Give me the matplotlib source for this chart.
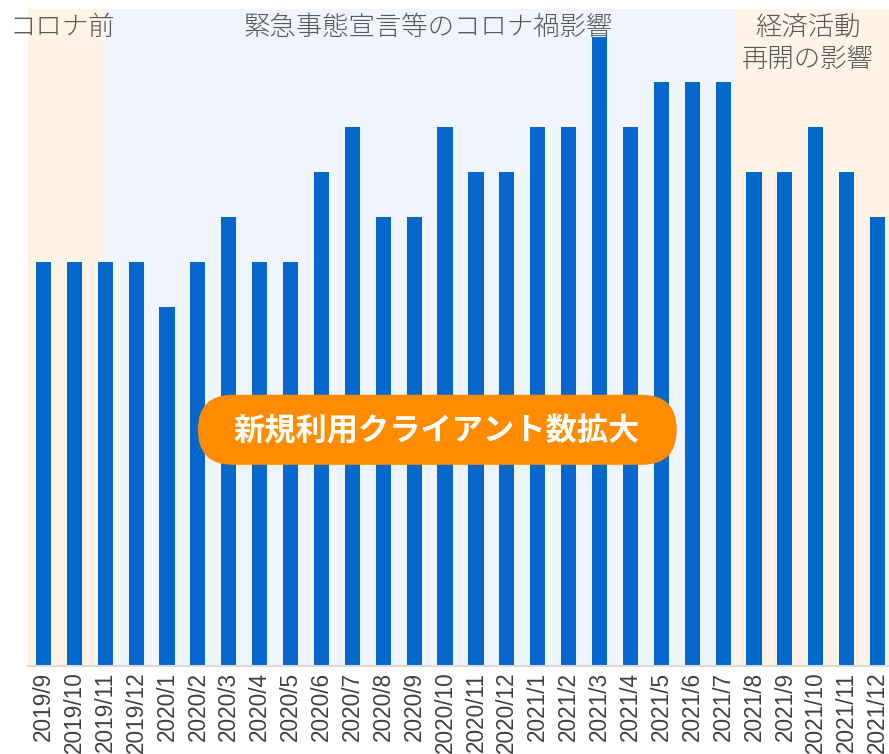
import matplotlib.pyplot as plt
from matplotlib.patches import FancyBboxPatch

months = ['2019/9', '2019/10', '2019/11', '2019/12',
          '2020/1', '2020/2', '2020/3', '2020/4', '2020/5', '2020/6',
          '2020/7', '2020/8', '2020/9', '2020/10', '2020/11', '2020/12',
          '2021/1', '2021/2', '2021/3', '2021/4', '2021/5', '2021/6',
          '2021/7', '2021/8', '2021/9', '2021/10', '2021/11', '2021/12']
clients = [9, 9, 9, 9,
           8, 9, 10, 9, 9, 11,
           12, 10, 10, 12, 11, 11,
           12, 12, 14, 12, 13, 13,
           13, 11, 11, 12, 11, 10]

phase_labels = ['コロナ前', '緊急事態宣言等のコロナ禍影響', '経済活動\n再開の影響']
callout = '新規利用クライアント数拡大'

plt.rcParams['font.family'] = ['Noto Sans CJK JP', 'DejaVu Sans']

fig = plt.figure(figsize=(8.89, 7.54), dpi=100)
ax = fig.add_axes([28/889, 88/754, (893-28)/889, (666-9)/754])

x = list(range(len(months)))
ax.set_xlim(-0.5, len(months) - 0.5)
ax.set_ylim(0, 14.63)

# phase backgrounds
ax.axvspan(-0.5, 1.97, color='#fef3e6', zorder=0)
ax.axvspan(1.97, 22.38, color='#f0f4fc', zorder=0)
ax.axvspan(22.38, len(months) - 0.5, color='#fef3e6', zorder=0)

ax.bar(x, clients, width=0.49, color='#0367cc', zorder=2)

hdr = dict(fontsize=19, color='#595959', fontweight='light', zorder=3)
ax.text(0.6, 14.23, phase_labels[0], ha='center', va='center', **hdr)
ax.text(12.45, 14.23, phase_labels[1], ha='center', va='center', **hdr)
ax.text(24.75, 13.87, phase_labels[2], ha='center', va='center', linespacing=1.2, **hdr)

# callout
box = FancyBboxPatch((5.0, 4.48), 15.5, 1.56,
                     boxstyle='round,pad=0,rounding_size=1.13',
                     mutation_aspect=30.9/44.9,
                     facecolor='#ff8c00', edgecolor='none', zorder=4)
ax.add_patch(box)
ax.text(12.72, 5.22, callout, ha='center', va='center', fontsize=22.5,
        fontweight='bold', color='white', zorder=5)

ax.set_xticks(x)
ax.set_xticklabels(months, rotation=90, fontsize=16.3, color='#404040', family='Liberation Sans')
ax.tick_params(axis='x', length=0, pad=4)
ax.set_yticks([])
for side in ['top', 'right', 'left']:
    ax.spines[side].set_visible(False)
ax.spines['bottom'].set_color('#d9d9d9')
ax.spines['bottom'].set_linewidth(1.5)

fig.savefig('out.png', dpi=100)
